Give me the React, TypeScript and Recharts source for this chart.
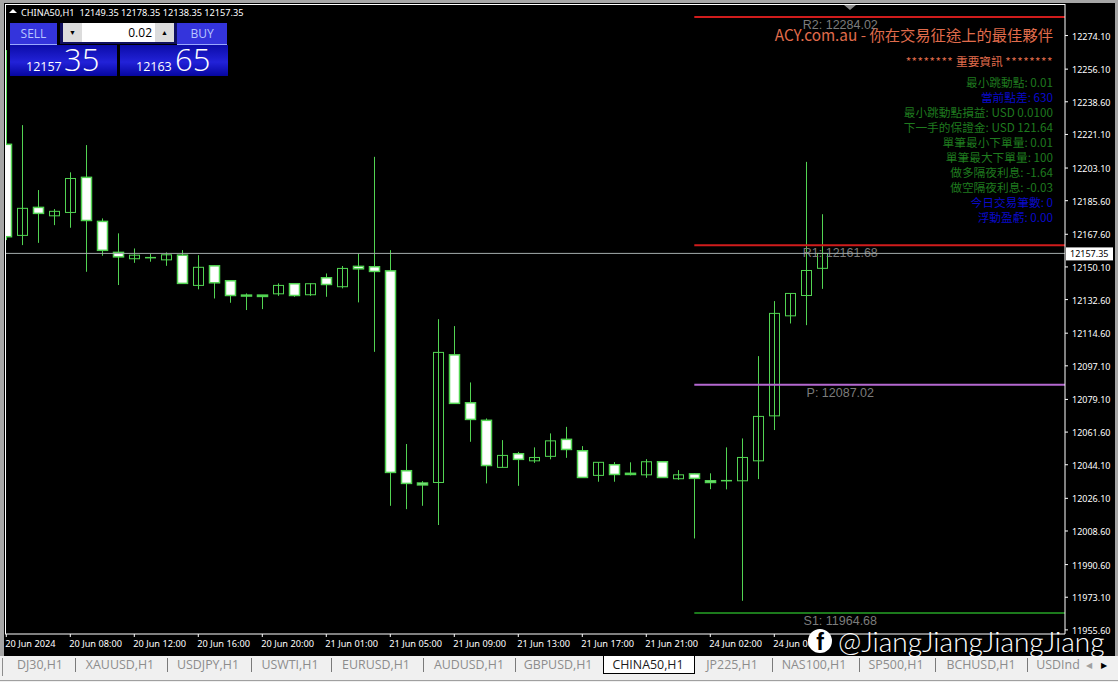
import { Bar, ComposedChart, ReferenceLine, XAxis, YAxis } from 'recharts'

// Candle values (CHINA50, H1).
const opens = [
  12215.8, 12167.0, 12182.0, 12177.5, 12179.3, 12198.1, 12174.5, 12157.9, 12154.5, 12155.2, 12153.9, 12156.4, 12140.2,
  12150.7, 12142.7, 12135.0, 12135.0, 12135.7, 12141.1, 12135.2, 12144.3, 12139.5, 12150.4, 12150.2, 12148.0, 12040.9,
  12034.3, 12034.6, 12103.0, 12077.3, 12067.9, 12042.7, 12050.0, 12046.2, 12048.6, 12057.7, 12051.6, 12038.4, 12044.1,
  12039.5, 12038.7, 12045.7, 12036.6, 12039.2, 12035.5, 12035.7, 12035.5, 12046.2, 12070.3, 12123.9, 12134.8, 12149.35,
]
const closes = [
  12166.3, 12181.5, 12178.8, 12179.9, 12197.5, 12175.0, 12159.0, 12155.5, 12156.4, 12155.2, 12156.6, 12141.3, 12149.9,
  12141.6, 12134.8, 12134.5, 12134.3, 12140.2, 12134.8, 12141.1, 12140.7, 12149.3, 12149.1, 12147.7, 12040.0, 12034.1,
  12033.3, 12104.3, 12077.0, 12068.4, 12043.7, 12049.1, 12047.0, 12048.0, 12056.9, 12052.3, 12037.3, 12045.4, 12038.9,
  12038.9, 12045.7, 12037.3, 12038.7, 12036.8, 12034.6, 12035.7, 12048.0, 12070.0, 12125.2, 12135.9, 12148.2, 12157.35,
]
const highs = [
  12266.3, 12226.1, 12191.3, 12181.1, 12200.8, 12215.4, 12176.1, 12168.1, 12160.0, 12157.0, 12157.9, 12159.1, 12156.4,
  12150.9, 12142.9, 12135.9, 12135.0, 12141.3, 12141.3, 12141.3, 12146.6, 12150.6, 12157.4, 12209.1, 12159.1, 12055.2,
  12035.3, 12122.1, 12118.4, 12088.2, 12068.9, 12057.3, 12051.0, 12053.4, 12060.9, 12064.4, 12054.1, 12045.4, 12045.5,
  12045.4, 12047.1, 12045.9, 12041.2, 12039.5, 12039.5, 12053.4, 12058.2, 12102.3, 12131.8, 12135.9, 12206.4, 12178.35,
]
const lows = [
  12164.5, 12161.8, 12163.0, 12172.5, 12171.1, 12147.5, 12156.1, 12140.4, 12152.3, 12152.9, 12150.7, 12141.3, 12138.1,
  12133.2, 12130.9, 12127.0, 12127.5, 12134.6, 12134.1, 12134.6, 12134.1, 12138.6, 12131.1, 12104.6, 12022.1, 12020.3,
  12022.1, 12011.8, 12077.0, 12056.4, 12034.1, 12042.7, 12032.8, 12045.1, 12047.0, 12047.8, 12037.3, 12035.0, 12035.0,
  12038.4, 12037.1, 12037.3, 12036.0, 12004.6, 12031.0, 12030.9, 11971.2, 12036.4, 12062.7, 12119.8, 12118.9, 12138.35,
]

const priceTicks = [
  12274.1, 12256.1, 12238.6, 12221.1, 12203.1, 12185.6, 12167.6, 12150.1, 12132.6, 12114.6, 12097.1, 12079.1, 12061.6,
  12044.1, 12026.1, 12008.6, 11990.6, 11973.1, 11955.6,
]
const timeTickIndexes = [0, 4, 8, 12, 16, 20, 24, 28, 32, 36, 40, 44, 48]
const timeTickLabels = [
  '20 Jun 2024', '20 Jun 08:00', '20 Jun 12:00', '20 Jun 16:00', '20 Jun 20:00', '21 Jun 01:00', '21 Jun 05:00',
  '21 Jun 09:00', '21 Jun 13:00', '21 Jun 17:00', '21 Jun 21:00', '24 Jun 02:00', '24 Jun 06:00',
]

const lastPrice = 12157.35
const pivotStart = 43
const levelNames = ['R2', 'R1', 'P', 'S1']
const levelValues = [12284.02, 12161.68, 12087.02, 11964.68]
const levelColors = ['#d01c1c', '#d01c1c', '#b468d0', '#1c7a1c']

const infoRows = [
  { text: '最小跳動點: 0.01', color: '#1f7a1f' },
  { text: '當前點差: 630', color: '#0a0ac8' },
  { text: '最小跳動點損益: USD 0.0100', color: '#1f7a1f' },
  { text: '下一手的保證金: USD 121.64', color: '#1f7a1f' },
  { text: '單筆最小下單量: 0.01', color: '#1f7a1f' },
  { text: '單筆最大下單量: 100', color: '#1f7a1f' },
  { text: '做多隔夜利息: -1.64', color: '#1f7a1f' },
  { text: '做空隔夜利息: -0.03', color: '#1f7a1f' },
  { text: '今日交易筆數: 0', color: '#0a0ac8' },
  { text: '浮動盈虧: 0.00', color: '#0a0ac8' },
]

const tabNames = [
  'DJ30,H1', 'XAUUSD,H1', 'USDJPY,H1', 'USWTI,H1', 'EURUSD,H1', 'AUDUSD,H1', 'GBPUSD,H1', 'CHINA50,H1', 'JP225,H1',
  'NAS100,H1', 'SP500,H1', 'BCHUSD,H1', 'USDInd',
]
const tabCenters = [40, 120, 208, 290, 376, 469, 558, 648, 732, 814, 896, 981, 1058]
const tabSeparators = [75, 167, 251, 331, 423, 515, 772, 859, 935, 1027]

const candles = opens.map((open, i) => ({
  i,
  open,
  close: closes[i],
  high: highs[i],
  low: lows[i],
  range: [lows[i], highs[i]],
}))

const CANDLE_GREEN = '#52d452'
const AXIS_FONT = '"Noto Sans", sans-serif'

// Draws one candle inside the low-high rectangle that the bar gets from the scales.
function Candle(props: any) {
  const { x, y, width, height, payload } = props
  const cx = Math.round(x + width / 2) + 0.5
  const perUnit = height / (payload.high - payload.low || 1)
  const top = y + (payload.high - Math.max(payload.open, payload.close)) * perUnit
  const bottom = y + (payload.high - Math.min(payload.open, payload.close)) * perUnit
  const falling = payload.close < payload.open
  return (
    <g>
      <line x1={cx} x2={cx} y1={y} y2={y + height} stroke={CANDLE_GREEN} strokeWidth={1} />
      <rect
        x={cx - 5}
        y={top}
        width={10}
        height={Math.max(bottom - top, 0.5)}
        fill={falling ? '#ffffff' : '#000000'}
        fillOpacity={falling ? 1 : 0}
        stroke={CANDLE_GREEN}
        strokeWidth={falling ? 1.5 : 1}
      />
    </g>
  )
}

function TimeTick(props: any) {
  const { x, y, payload } = props
  return (
    <text x={x - 1} y={y + 8} fill="#ffffff" fontFamily={AXIS_FONT} fontSize={9.2} textAnchor="start">
      {timeTickLabels[timeTickIndexes.indexOf(payload.value)]}
    </text>
  )
}

function PriceTick(props: any) {
  const { x, y, payload } = props
  return (
    <text x={x + 2} y={y + 4} fill="#ffffff" fontFamily={AXIS_FONT} fontSize={9} textAnchor="start">
      {payload.value.toFixed(2)}
    </text>
  )
}

function levelLabel(name: string, value: number) {
  return ({ viewBox }: any) => (
    <text
      x={viewBox.x + 146}
      y={viewBox.y + 12}
      fill="#7c7c7c"
      fontFamily='"Liberation Sans", sans-serif'
      fontSize={12.5}
      textAnchor="middle"
    >
      {`${name}: ${value.toFixed(2)}`}
    </text>
  )
}

function lastPriceLabel({ viewBox }: any) {
  return (
    <g>
      <rect x={viewBox.x + viewBox.width + 1} y={viewBox.y - 6} width={47} height={13} fill="#ffffff" />
      <text
        x={viewBox.x + viewBox.width + 5}
        y={viewBox.y + 4}
        fill="#000000"
        fontFamily={AXIS_FONT}
        fontSize={9}
      >
        {lastPrice.toFixed(2)}
      </text>
    </g>
  )
}

function abs(left: number, top: number, width: number, height: number): React.CSSProperties {
  return { position: 'absolute', left, top, width, height }
}

const PRICE_GRADIENT = 'linear-gradient(180deg, #0c0ca8 0%, #2222d8 55%, #0606a0 100%)'

// The one-click trading panel in the corner of the chart.
function TradePanel() {
  const labelStyle: React.CSSProperties = {
    color: '#b9c6ff',
    fontSize: 12,
    textAlign: 'center',
    lineHeight: '21px',
    background: '#3434dc',
    borderBottom: '1px solid #9aa8ff',
    boxSizing: 'border-box',
  }
  const stepStyle: React.CSSProperties = {
    background: '#dcdcdc',
    color: '#000',
    fontSize: 7,
    textAlign: 'center',
    lineHeight: '19px',
  }
  return (
    <div style={{ fontFamily: '"Open Sans", sans-serif' }}>
      <div style={{ ...abs(10, 23, 47, 22), ...labelStyle }}>SELL</div>
      <div style={{ ...abs(177, 23, 50, 22), ...labelStyle }}>BUY</div>
      <div style={{ ...abs(60, 23, 117, 21), background: '#101060' }} />
      <div style={{ ...abs(63, 23, 111, 19), background: '#ffffff' }} />
      <div style={{ ...abs(63, 23, 19, 19), ...stepStyle }}>▼</div>
      <div style={{ ...abs(155, 23, 19, 19), ...stepStyle }}>▲</div>
      <div style={{ ...abs(90, 23, 62, 19), textAlign: 'right', fontSize: 12, lineHeight: '19px', color: '#000' }}>
        0.02
      </div>
      <div style={{ ...abs(10, 45, 107, 31), background: PRICE_GRADIENT }} />
      <div style={{ ...abs(120, 45, 108, 31), background: PRICE_GRADIENT }} />
      <div style={{ ...abs(26, 59, 40, 16), color: '#fff', fontSize: 12.5, lineHeight: '16px' }}>12157</div>
      <div style={{ ...abs(64, 41, 40, 36), color: '#fff', fontSize: 31, fontWeight: 300, lineHeight: '36px' }}>35</div>
      <div style={{ ...abs(136, 59, 40, 16), color: '#fff', fontSize: 12.5, lineHeight: '16px' }}>12163</div>
      <div style={{ ...abs(175, 41, 40, 36), color: '#fff', fontSize: 31, fontWeight: 300, lineHeight: '36px' }}>65</div>
    </div>
  )
}

// The broker text block, right aligned over the chart.
function InfoBlock() {
  const cjk = '"Noto Sans CJK TC", "Noto Sans", sans-serif'
  const stars = <span style={{ letterSpacing: 0.5 }}>********</span>
  return (
    <div style={{ fontFamily: cjk, textAlign: 'right' }}>
      <div style={{ ...abs(700, 24, 353, 20), color: '#e06c4c', fontSize: 15.3, lineHeight: '20px' }}>
        ACY.com.au - 你在交易征途上的最佳夥伴
      </div>
      <div style={{ ...abs(800, 53, 253, 16), color: '#e06c4c', fontSize: 11.7, lineHeight: '16px' }}>
        {stars} 重要資訊 {stars}
      </div>
      {infoRows.map((row, i) => (
        <div
          key={row.text}
          style={{ ...abs(800, 74 + i * 15, 253, 16), color: row.color, fontSize: 11.7, lineHeight: '16px' }}
        >
          {row.text}
        </div>
      ))}
    </div>
  )
}

function TabBar() {
  return (
    <div style={{ ...abs(0, 656, 1118, 26), background: '#f0f0f0', fontFamily: '"Open Sans", sans-serif' }}>
      <div style={{ ...abs(2, 2, 1, 18), background: '#8c8c8c' }} />
      <div style={{ ...abs(603, 0, 92, 18), background: '#ffffff', border: '1px solid #000', borderTop: 'none', boxSizing: 'border-box' }} />
      {tabNames.map((name, i) => (
        <div
          key={name}
          style={{
            ...abs(tabCenters[i] - 50, 0, 100, 18),
            textAlign: 'center',
            fontSize: 12.4,
            lineHeight: '18px',
            color: name === 'CHINA50,H1' ? '#1a1a1a' : '#8c8c8c',
          }}
        >
          {name}
        </div>
      ))}
      {tabSeparators.map((left) => (
        <div key={left} style={{ ...abs(left, 2, 1, 14), background: '#7a7a7a' }} />
      ))}
      <div style={{ ...abs(1086, 0, 12, 18), color: '#a0a0a0', fontSize: 8, lineHeight: '18px' }}>◀</div>
      <div style={{ ...abs(1101, 0, 12, 18), color: '#000000', fontSize: 8, lineHeight: '18px' }}>▶</div>
      <div style={{ ...abs(0, 24, 1118, 1), background: '#a0a0a0' }} />
    </div>
  )
}

function Watermark() {
  return (
    <div style={{ color: '#ffffff', fontFamily: 'Lato, sans-serif' }}>
      <div
        style={{
          ...abs(808, 629, 24, 24),
          borderRadius: '50%',
          background: '#ffffff',
          color: '#000000',
          fontFamily: '"Liberation Sans", sans-serif',
          fontWeight: 700,
          fontSize: 23,
          lineHeight: '27px',
          textAlign: 'center',
        }}
      >
        f
      </div>
      <div style={{ ...abs(838, 625, 275, 32), fontSize: 28, fontWeight: 300, lineHeight: '32px', whiteSpace: 'nowrap' }}>
        @JiangJiangJiangJiang
      </div>
    </div>
  )
}

export default function App() {
  return (
    <div style={{ ...abs(0, 0, 1118, 682), background: '#a6a6a6', overflow: 'hidden' }}>
      <div style={{ ...abs(4, 3, 1111, 653), background: '#000000' }} />
      <div style={{ ...abs(0, 0, 1118, 660) }}>
        <ComposedChart
          width={1118}
          height={660}
          data={candles}
          margin={{ top: 4, right: 0, bottom: 0, left: 5 }}
        >
          <XAxis
            dataKey="i"
            type="number"
            domain={[-0.081, 66.169]}
            ticks={timeTickIndexes}
            interval={0}
            allowDataOverflow
            height={26}
            tickSize={3}
            stroke="#ffffff"
            tick={<TimeTick />}
          />
          <YAxis
            orientation="right"
            type="number"
            domain={[11953.4, 12291]}
            ticks={priceTicks}
            interval={0}
            allowDataOverflow
            width={53}
            tickSize={3}
            stroke="#ffffff"
            tick={<PriceTick />}
          />
          {levelNames.map((name, k) => (
            <ReferenceLine
              key={name}
              segment={[
                { x: pivotStart, y: levelValues[k] },
                { x: 66.169, y: levelValues[k] },
              ]}
              stroke={levelColors[k]}
              strokeWidth={2}
              label={levelLabel(name, levelValues[k])}
            />
          ))}
          <ReferenceLine y={lastPrice} stroke="#a4acac" strokeWidth={1} label={lastPriceLabel} />
          <Bar dataKey="range" barSize={10} shape={<Candle />} isAnimationActive={false} />
        </ComposedChart>
      </div>
      <div style={{ ...abs(5, 4, 1060, 630), borderTop: '1px solid #fff', borderLeft: '1px solid #fff', boxSizing: 'border-box' }} />
      <div
        style={{
          ...abs(844, 5, 0, 0),
          borderLeft: '6px solid transparent',
          borderRight: '6px solid transparent',
          borderTop: '5px solid #8c8c8c',
        }}
      />
      <div
        style={{
          ...abs(9, 9, 0, 0),
          borderLeft: '4px solid transparent',
          borderRight: '4px solid transparent',
          borderBottom: '4px solid #ffffff',
        }}
      />
      <div
        style={{
          ...abs(21, 6, 300, 13),
          color: '#ffffff',
          fontFamily: AXIS_FONT,
          fontSize: 9.2,
          lineHeight: '13px',
          whiteSpace: 'pre',
        }}
      >
        CHINA50,H1  12149.35 12178.35 12138.35 12157.35
      </div>
      <TradePanel />
      <InfoBlock />
      <TabBar />
      <Watermark />
    </div>
  )
}
